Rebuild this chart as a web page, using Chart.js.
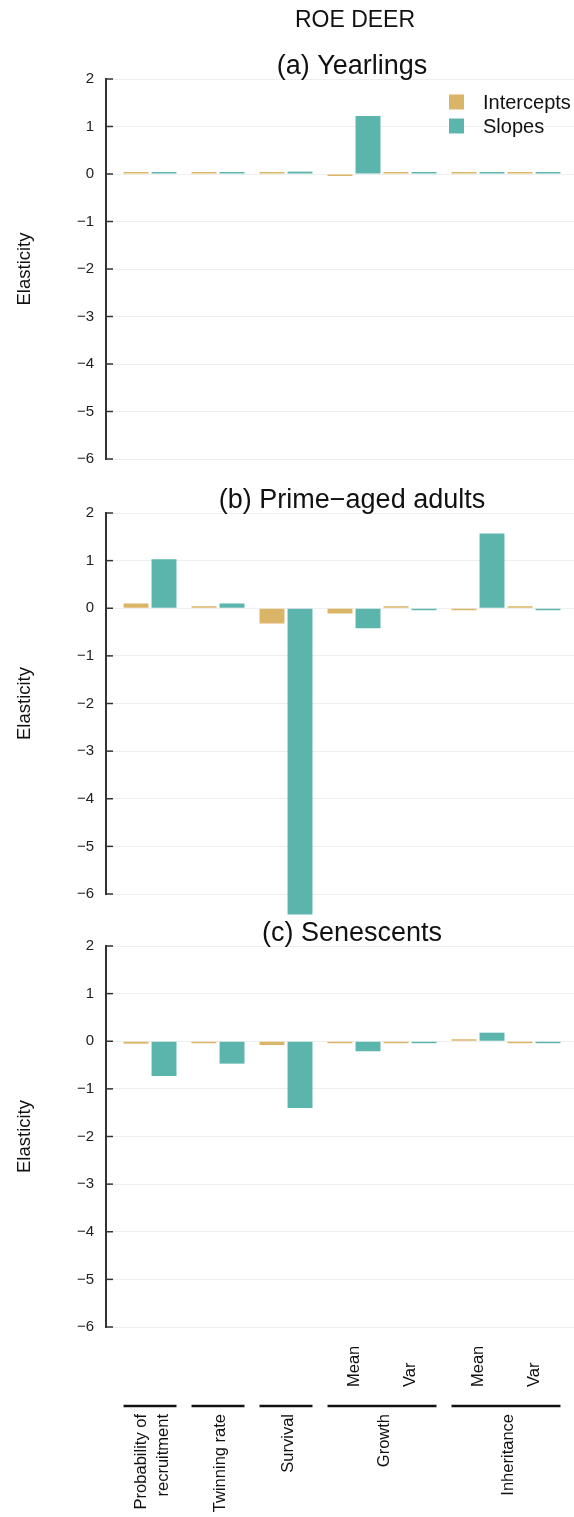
<!DOCTYPE html>
<html>
<head>
<meta charset="utf-8">
<script src="https://cdn.jsdelivr.net/npm/chart.js@4.4.1/dist/chart.umd.min.js"></script>
<style>
  html, body { margin: 0; padding: 0; background: #fff; overflow: hidden; }
  #wrap { position: relative; width: 574px; height: 1517px; }
  canvas { position: absolute; left: 0; }
</style>
</head>
<body>
<div id="wrap">
  <canvas id="panelA" width="574" height="480" style="top:0px"></canvas>
  <canvas id="panelB" width="574" height="500" style="top:434px"></canvas>
  <canvas id="panelC" width="574" height="650" style="top:867px"></canvas>
</div>
<script>
// categories
const groupNames = ['Probability of\nrecruitment', 'Twinning rate', 'Survival', 'Growth', 'Inheritance'];
const columnGroup = [0, 1, 2, 3, 3, 4, 4];
const columnLabels = ['', '', '', 'Mean', 'Var', 'Mean', 'Var'];
const seriesNames = ['Intercepts', 'Slopes'];
const panelTitles = ['(a) Yearlings', '(b) Prime\u2212aged adults', '(c) Senescents'];
const yMin = -6, yMax = 2;

// elasticities per stage
const yearlingIntercepts = [0.01, 0.01, 0.01, -0.04, 0.01, 0.01, 0.01];
const yearlingSlopes = [0.01, 0.01, 0.05, 1.22, 0.04, 0.01, 0.01];
const primeIntercepts = [0.10, 0.035, -0.32, -0.11, 0.02, -0.03, 0.02];
const primeSlopes = [1.03, 0.10, -6.43, -0.42, -0.04, 1.57, -0.02];
const senescentIntercepts = [-0.05, -0.04, -0.08, -0.02, -0.02, 0.03, -0.02];
const senescentSlopes = [-0.73, -0.47, -1.40, -0.21, -0.02, 0.18, -0.02];

const FONT = "'Liberation Sans', Arial, Helvetica, sans-serif";
const INT_COLOR = '#DAB467';
const SLOPE_COLOR = '#5CB5AC';
const BAR_PCT = 0.89;
const GROUP_GAP = 0.214;

// x positions: pairs inside a group sit side by side, groups get a small gap
const xPos = [];
let p = 0;
columnGroup.forEach((g, i) => {
  if (i > 0) p += (g !== columnGroup[i - 1]) ? 1 + GROUP_GAP : 1;
  xPos.push(p);
});

const decor = {
  id: 'decor',
  afterDraw(chart, args, opts) {
    const ctx = chart.ctx, area = chart.chartArea;
    const y = chart.scales.y, x = chart.scales.x;
    ctx.save();
    // short inward tick marks on the y axis
    ctx.strokeStyle = '#333';
    ctx.lineWidth = 1.5;
    y.ticks.forEach(t => {
      const py = y.getPixelForValue(t.value);
      ctx.beginPath();
      ctx.moveTo(area.left, py);
      ctx.lineTo(area.left + 7, py);
      ctx.stroke();
    });

    ctx.fillStyle = '#111';
    ctx.textAlign = 'center';
    ctx.textBaseline = 'middle';
    const cx = (area.left + area.right) / 2 + 12;
    if (opts.mainTitle) {
      ctx.font = '23px ' + FONT;
      ctx.fillText(opts.mainTitle, cx + 3, 21);
    }
    ctx.font = '27px ' + FONT;
    ctx.fillText(opts.title, cx, area.top - 12);

    if (opts.legend) {
      ctx.font = '20px ' + FONT;
      ctx.textAlign = 'left';
      chart.data.datasets.forEach((ds, i) => {
        const cy = area.top + 23 + i * 24;
        ctx.fillStyle = ds.backgroundColor;
        ctx.fillRect(area.right - 125, cy - 7.5, 15, 15);
        ctx.fillStyle = '#111';
        ctx.fillText(ds.label, area.right - 91, cy + 1);
      });
    }

    if (opts.xLabels) {
      const base = area.bottom;
      const half = 0.5 - (1 - BAR_PCT) / 4;
      ctx.font = '16.5px ' + FONT;
      ctx.fillStyle = '#111';
      ctx.textBaseline = 'middle';
      columnLabels.forEach((lab, i) => {
        if (!lab) return;
        ctx.save();
        ctx.translate(x.getPixelForValue(xPos[i]), base + 60);
        ctx.rotate(-Math.PI / 2);
        ctx.textAlign = 'left';
        ctx.fillText(lab, 0, 0);
        ctx.restore();
      });
      groupNames.forEach((name, g) => {
        const idx = columnGroup.map((gg, i) => gg === g ? i : -1).filter(i => i >= 0);
        const x0 = x.getPixelForValue(xPos[idx[0]] - half);
        const x1 = x.getPixelForValue(xPos[idx[idx.length - 1]] + half);
        ctx.strokeStyle = '#111';
        ctx.lineWidth = 2.5;
        ctx.beginPath();
        ctx.moveTo(x0, base + 79);
        ctx.lineTo(x1, base + 79);
        ctx.stroke();
        const lines = name.split('\n');
        lines.forEach((ln, k) => {
          const off = (k - (lines.length - 1) / 2) * 22;
          ctx.save();
          ctx.translate((x0 + x1) / 2 + off + 2, base + 87);
          ctx.rotate(-Math.PI / 2);
          ctx.textAlign = 'right';
          ctx.fillText(ln, 0, 0);
          ctx.restore();
        });
      });
    }
    ctx.restore();
  }
};

function makePanel(id, title, intercepts, slopes, extra) {
  return new Chart(document.getElementById(id), {
    type: 'bar',
    data: {
      datasets: [
        { label: seriesNames[0], data: intercepts.map((v, i) => ({ x: xPos[i], y: v })),
          backgroundColor: INT_COLOR, clip: false },
        { label: seriesNames[1], data: slopes.map((v, i) => ({ x: xPos[i], y: v })),
          backgroundColor: SLOPE_COLOR, clip: false }
      ]
    },
    options: {
      responsive: false,
      animation: false,
      devicePixelRatio: 1,
      categoryPercentage: 1,
      barPercentage: BAR_PCT,
      minBarLength: 2,
      layout: { padding: { top: 79, bottom: extra.bottom, left: 0, right: 0 } },
      plugins: {
        legend: { display: false },
        tooltip: { enabled: false },
        decor: { title: title, mainTitle: extra.mainTitle, legend: extra.legend, xLabels: extra.xLabels }
      },
      scales: {
        x: {
          type: 'linear', display: false, offset: false,
          min: xPos[0] - 0.786, max: xPos[xPos.length - 1] + 0.714
        },
        y: {
          min: yMin, max: yMax,
          afterFit: s => { s.width = 106; },
          border: { display: true, color: '#333', width: 2 },
          grid: { color: '#efefef', lineWidth: 1, drawTicks: false },
          ticks: {
            stepSize: 1, padding: 12, color: '#222',
            font: { family: FONT, size: 15 },
            callback: v => String(v).replace('-', '\u2212')
          },
          title: {
            display: true, text: 'Elasticity', color: '#111',
            font: { family: FONT, size: 18.5 }, padding: { top: 14, bottom: 0 }
          }
        }
      }
    },
    plugins: [decor]
  });
}

makePanel('panelA', panelTitles[0], yearlingIntercepts, yearlingSlopes,
  { bottom: 20, mainTitle: 'ROE DEER', legend: true });
makePanel('panelB', panelTitles[1], primeIntercepts, primeSlopes, { bottom: 40 });
makePanel('panelC', panelTitles[2], senescentIntercepts, senescentSlopes,
  { bottom: 190, xLabels: true });
</script>
</body>
</html>
